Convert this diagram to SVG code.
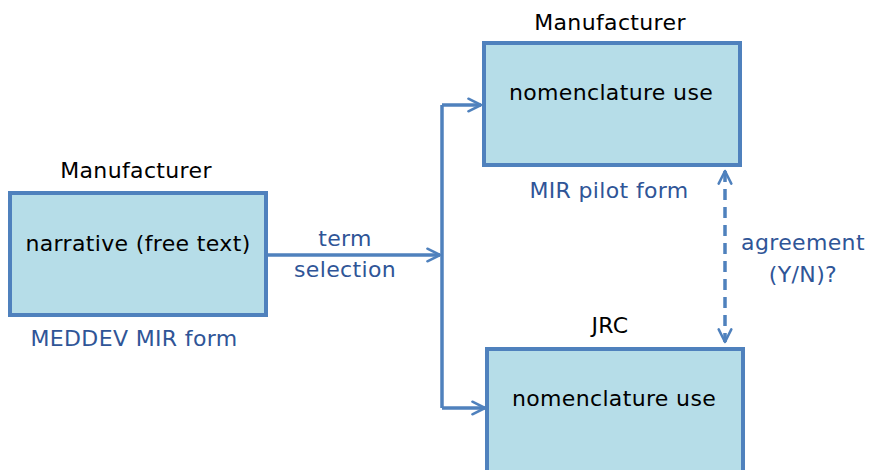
<svg xmlns="http://www.w3.org/2000/svg" width="872" height="470" viewBox="0 0 872 470">
  <style>
    .box { fill: #b6dde8; stroke: #4f81bd; stroke-width: 4; }
    .lbl { font-family: "DejaVu Sans", Verdana, sans-serif; font-size: 22px; letter-spacing: 0.35px; text-anchor: middle; }
    .dark { fill: #000000; }
    .blue { fill: #2f5597; }
    .conn { fill: none; stroke: #4f81bd; stroke-width: 3.5; }
    .dash { fill: none; stroke: #4f81bd; stroke-width: 3.5; stroke-dasharray: 11 7; }
  </style>
  <defs>
    <marker id="arrow" viewBox="0 0 10 10" refX="9" refY="5" markerWidth="4.5" markerHeight="4.5" orient="auto-start-reverse" markerUnits="strokeWidth">
      <path d="M1,1 L9,5 L1,9" fill="none" stroke="#4f81bd" stroke-width="1.6" stroke-linecap="round" stroke-linejoin="round"/>
    </marker>
  </defs>

  <rect width="872" height="470" fill="#ffffff"/>

  <!-- connectors -->
  <g id="connectors">
    <path class="conn" d="M267,255 L440,255" marker-end="url(#arrow)"/>
    <path class="conn" d="M442,105 L442,408"/>
    <path class="conn" d="M442,105 L481,105" marker-end="url(#arrow)"/>
    <path class="conn" d="M442,408 L485,408" marker-end="url(#arrow)"/>
    <path class="dash" d="M725,171 L725,342" marker-start="url(#arrow)" marker-end="url(#arrow)"/>
    <text class="lbl blue" x="345" y="246">term</text>
    <text class="lbl blue" x="345" y="277">selection</text>
    <text class="lbl blue" x="803" y="250">agreement</text>
    <text class="lbl blue" x="803" y="282">(Y/N)?</text>
  </g>

  <!-- manufacturer narrative -->
  <g id="node-narrative">
    <text class="lbl dark" x="136" y="178">Manufacturer</text>
    <rect class="box" x="10" y="193" width="256" height="122"/>
    <text class="lbl dark" x="138" y="251">narrative (free text)</text>
    <text class="lbl blue" x="134" y="346">MEDDEV MIR form</text>
  </g>

  <!-- manufacturer nomenclature use -->
  <g id="node-manufacturer">
    <text class="lbl dark" x="610" y="30">Manufacturer</text>
    <rect class="box" x="484" y="43" width="256" height="122"/>
    <text class="lbl dark" x="611" y="100">nomenclature use</text>
    <text class="lbl blue" x="609" y="198">MIR pilot form</text>
  </g>

  <!-- JRC nomenclature use -->
  <g id="node-jrc">
    <text class="lbl dark" x="610" y="333">JRC</text>
    <rect class="box" x="487" y="349" width="256" height="140"/>
    <text class="lbl dark" x="614" y="406">nomenclature use</text>
  </g>
</svg>
